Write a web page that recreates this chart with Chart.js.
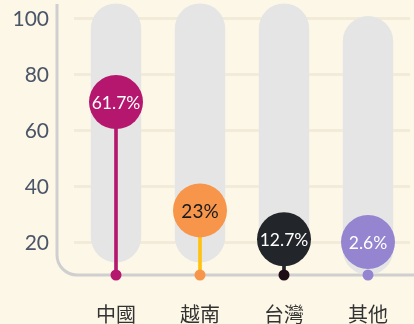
<!DOCTYPE html>
<html>
<head>
<meta charset="utf-8">
<script src="https://cdn.jsdelivr.net/npm/chart.js@4.4.1/dist/chart.umd.min.js"></script>
<style>
  html, body { margin: 0; padding: 0; background: #fdf7e7; }
  canvas { display: block; }
</style>
</head>
<body>
<canvas id="share-chart" width="414" height="324"></canvas>
<script>
const categories = ['中國', '越南', '台灣', '其他'];
const shares = [61.7, 23, 12.7, 2.6];
const trackLow = [13, 13, 13, 8.5];
const trackHigh = [105.5, 105.5, 105.5, 101];
const yTicks = [20, 40, 60, 80, 100];

const bubbleColors = ['#b5176f', '#f7964a', '#222529', '#9585d0'];
const stemColors = ['#b5176f', '#ffc20e', '#222529', '#29a8e0'];
const dotColors = ['#b5176f', '#f7964a', '#1e0d14', '#9585d0'];
const bubbleTextColors = ['#ffffff', '#1a1a1a', '#ffffff', '#ffffff'];

const BUBBLE_R = 27;

// rounded axis line, foot dots and the value bubbles
const lollipopPlugin = {
    id: 'lollipop',
    beforeDatasetsDraw(chart) {
        const ctx = chart.ctx;
        const area = chart.chartArea;
        const left = area.left - 17;
        const bottom = area.bottom;
        const r = 20;
        ctx.save();
        ctx.strokeStyle = '#cfcfcf';
        ctx.lineWidth = 3;
        ctx.beginPath();
        ctx.moveTo(left, 4);
        ctx.lineTo(left, bottom - r);
        ctx.arcTo(left, bottom, left + r, bottom, r);
        ctx.lineTo(chart.width, bottom);
        ctx.stroke();
        ctx.restore();
    },
    afterDatasetsDraw(chart) {
        const ctx = chart.ctx;
        const bottom = chart.chartArea.bottom;
        const stems = chart.getDatasetMeta(1).data;
        ctx.save();
        stems.forEach((bar, i) => {
            ctx.fillStyle = dotColors[i];
            ctx.beginPath();
            ctx.arc(bar.x, bottom, 5.5, 0, Math.PI * 2);
            ctx.fill();

            // bubble rests on the stem top, but never sinks into the baseline
            const cy = Math.min(bar.y - BUBBLE_R + 3, bottom - BUBBLE_R - 6);
            ctx.fillStyle = bubbleColors[i];
            ctx.beginPath();
            ctx.arc(bar.x, cy, BUBBLE_R, 0, Math.PI * 2);
            ctx.fill();

            ctx.fillStyle = bubbleTextColors[i];
            ctx.font = (i === 1 ? '19px' : '17.5px') + ' Lato, sans-serif';
            ctx.textAlign = 'center';
            ctx.textBaseline = 'middle';
            ctx.fillText(shares[i] + '%', bar.x, cy + 1);
        });
        ctx.restore();
    }
};

const ctx = document.getElementById('share-chart').getContext('2d');
new Chart(ctx, {
    type: 'bar',
    data: {
        labels: categories,
        datasets: [
            {
                label: 'track',
                data: trackLow.map((lo, i) => [lo, trackHigh[i]]),
                backgroundColor: '#e5e5e5',
                borderRadius: 30,
                borderSkipped: false,
                grouped: false,
                barPercentage: 0.6,
                categoryPercentage: 1,
                order: 2
            },
            {
                label: 'share',
                data: shares,
                backgroundColor: stemColors,
                barThickness: 3,
                grouped: false,
                order: 1
            }
        ]
    },
    options: {
        responsive: false,
        animation: false,
        layout: {
            padding: { top: 2, right: 4, left: 0, bottom: 0 }
        },
        plugins: {
            legend: { display: false },
            tooltip: { enabled: false }
        },
        scales: {
            x: {
                grid: { display: false, drawTicks: false },
                border: { display: false },
                ticks: {
                    padding: 27,
                    color: '#333333',
                    font: { family: "'Noto Sans CJK TC', sans-serif", size: 20 }
                },
                afterFit: axis => {
                    axis.height = 49;
                    axis.paddingLeft = 0;
                    axis.paddingRight = 0;
                }
            },
            y: {
                min: 8.5,
                max: 106,
                grid: { color: '#f3ebd9', lineWidth: 3, drawTicks: false },
                border: { display: false },
                ticks: {
                    padding: 25,
                    color: '#4a5568',
                    font: { family: 'Lato, sans-serif', size: 21 }
                },
                afterBuildTicks: axis => {
                    axis.ticks = yTicks.map(v => ({ value: v }));
                },
                afterFit: axis => {
                    axis.width = 74;
                    // tick padding would otherwise push the plot area down
                    axis.paddingTop = 0;
                    axis.paddingBottom = 0;
                }
            }
        }
    },
    plugins: [lollipopPlugin]
});
</script>
</body>
</html>
